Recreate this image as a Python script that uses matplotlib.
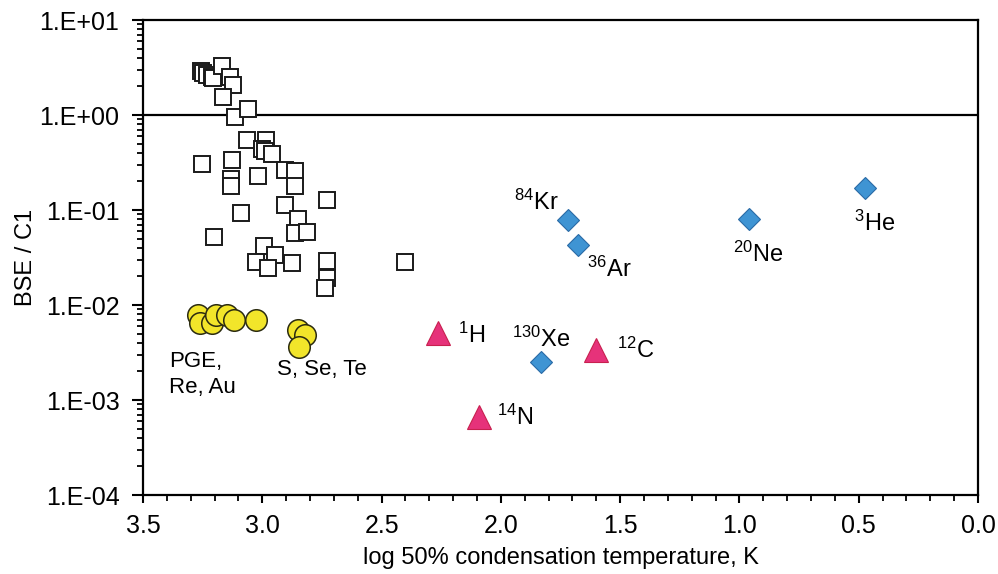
import numpy as np
import matplotlib
matplotlib.use("Agg")
import matplotlib.pyplot as plt
from matplotlib.ticker import MultipleLocator, LogLocator, FixedLocator, NullFormatter

plt.rcParams['font.family'] = ['Liberation Sans', 'DejaVu Sans']
plt.rcParams['mathtext.fontset'] = 'custom'
plt.rcParams['mathtext.rm'] = 'Liberation Sans'
plt.rcParams['mathtext.it'] = 'Liberation Sans'

#---------------------- DATA ------------------------#

# lithophile / other elements (open squares)
sq_t = [3.257, 3.247, 3.233, 3.212, 3.207, 3.168, 3.135, 3.123, 3.163, 3.114, 3.061,
        3.065, 2.984, 3.000, 2.989, 2.958, 3.254, 3.128, 3.017, 2.905, 2.863,
        3.132, 3.132, 2.863, 2.730, 2.905, 3.091, 2.849, 2.863, 2.814, 3.202,
        2.993, 2.947, 3.026, 2.977, 2.877, 2.728, 2.728, 2.737, 2.402]
sq_r = [2.90, 2.75, 2.64, 2.53, 2.45, 3.30, 2.53, 2.07, 1.56, 0.96, 1.16,
        0.546, 0.546, 0.439, 0.418, 0.388, 0.305, 0.336, 0.228, 0.264, 0.259,
        0.212, 0.179, 0.179, 0.127, 0.113, 0.0923, 0.0798, 0.0577, 0.0592, 0.0516,
        0.0421, 0.0336, 0.0286, 0.0243, 0.0275, 0.0290, 0.0191, 0.0150, 0.0284]

# PGE, Re, Au and S, Se, Te (yellow circles)
ci_t = [3.270, 3.261, 3.211, 3.194, 3.148, 3.119, 3.026, 2.850, 2.821, 2.846]
ci_r = [0.00785, 0.00647, 0.00647, 0.00785, 0.00785, 0.00695, 0.00695,
        0.00546, 0.00483, 0.00361]

# noble gases (blue diamonds)
ng_names = ["$^{84}$Kr", "$^{36}$Ar", "$^{130}$Xe", "$^{20}$Ne", "$^{3}$He"]
ng_t = [1.719, 1.677, 1.832, 0.960, 0.474]
ng_r = [0.0785, 0.0428, 0.00251, 0.0803, 0.1706]

# H, C, N (red triangles)
vol_names = ["$^{1}$H", "$^{12}$C", "$^{14}$N"]
vol_t = [2.262, 1.603, 2.091]
vol_r = [0.00503, 0.00336, 0.000667]

y_ticks = [1e-4, 1e-3, 1e-2, 1e-1, 1e0, 1e1]
y_labels = ["1.E-04", "1.E-03", "1.E-02", "1.E-01", "1.E+00", "1.E+01"]

#---------------------- PLOT ------------------------#

fig = plt.figure(figsize=(9.98, 5.74), dpi=100)
ax = fig.add_axes([0.1433, 0.1376, 0.8367, 0.8274])

ax.axhline(1.0, color="black", lw=1.6, zorder=1)

ax.plot(sq_t, sq_r, "s", ms=11, mfc="white", mec="#1a1a1a", mew=1.4, ls="none", zorder=3)
ax.plot(ci_t, ci_r, "o", ms=15.5, mfc="#f2e52a", mec="#2b2b10", mew=1.1, ls="none", zorder=3)
ax.plot(ng_t, ng_r, "D", ms=11, mfc="#3f94d3", mec="#2a6aa6", mew=0.8, ls="none", zorder=3)
ax.plot(vol_t, vol_r, "^", ms=17, mfc="#e6327a", mec="#c8204f", mew=0.8, ls="none", zorder=3)

# isotope labels: offsets in x and multiplicative offsets in y
lbl_fs = 17
ng_off = [(0.04, 1.55, "right"), (-0.04, 0.56, "left"), (0.0, 1.75, "center"),
          (-0.04, 0.43, "center"), (-0.04, 0.43, "center")]
for n, t, r, (dx, fy, ha) in zip(ng_names, ng_t, ng_r, ng_off):
    ax.text(t + dx, r * fy, n, fontsize=lbl_fs, ha=ha, va="center")
vol_off = [(-0.14, 0.96), (-0.17, 1.0), (-0.15, 0.98)]
for n, t, r, (dx, fy) in zip(vol_names, vol_t, vol_r, vol_off):
    ax.text(t + dx, r * fy, n, fontsize=lbl_fs, ha="center", va="center")

ax.text(3.39, 0.00185, "PGE,\nRe, Au", fontsize=16, ha="left", va="center", linespacing=1.3)
ax.text(2.75, 0.0021, "S, Se, Te", fontsize=16, ha="center", va="center")

ax.set_xlim(3.5, 0.0)
ax.set_yscale("log")
ax.set_ylim(1e-4, 1e1)

ax.xaxis.set_minor_locator(MultipleLocator(0.1))
ax.set_xticks([3.5, 3.0, 2.5, 2.0, 1.5, 1.0, 0.5, 0.0])
ax.set_xticklabels(["3.5", "3.0", "2.5", "2.0", "1.5", "1.0", "0.5", "0.0"])
ax.yaxis.set_major_locator(FixedLocator(y_ticks))
ax.set_yticklabels(y_labels)
ax.yaxis.set_minor_locator(LogLocator(base=10, subs=np.arange(2, 10)))
ax.yaxis.set_minor_formatter(NullFormatter())

ax.tick_params(axis="both", which="major", direction="out", length=6, width=1.5,
               labelsize=18, pad=5)
ax.tick_params(axis="both", which="minor", direction="out", length=4, width=1.3)
ax.tick_params(axis="y", which="major", length=8, pad=9)
ax.tick_params(axis="x", which="major", pad=8)

for s in ax.spines.values():
    s.set_linewidth(1.6)

ax.set_ylabel("BSE / C1", fontsize=17, labelpad=2)
ax.set_xlabel("log 50% condensation temperature, K", fontsize=17, labelpad=6)

fig.savefig("out.png", dpi=100)
